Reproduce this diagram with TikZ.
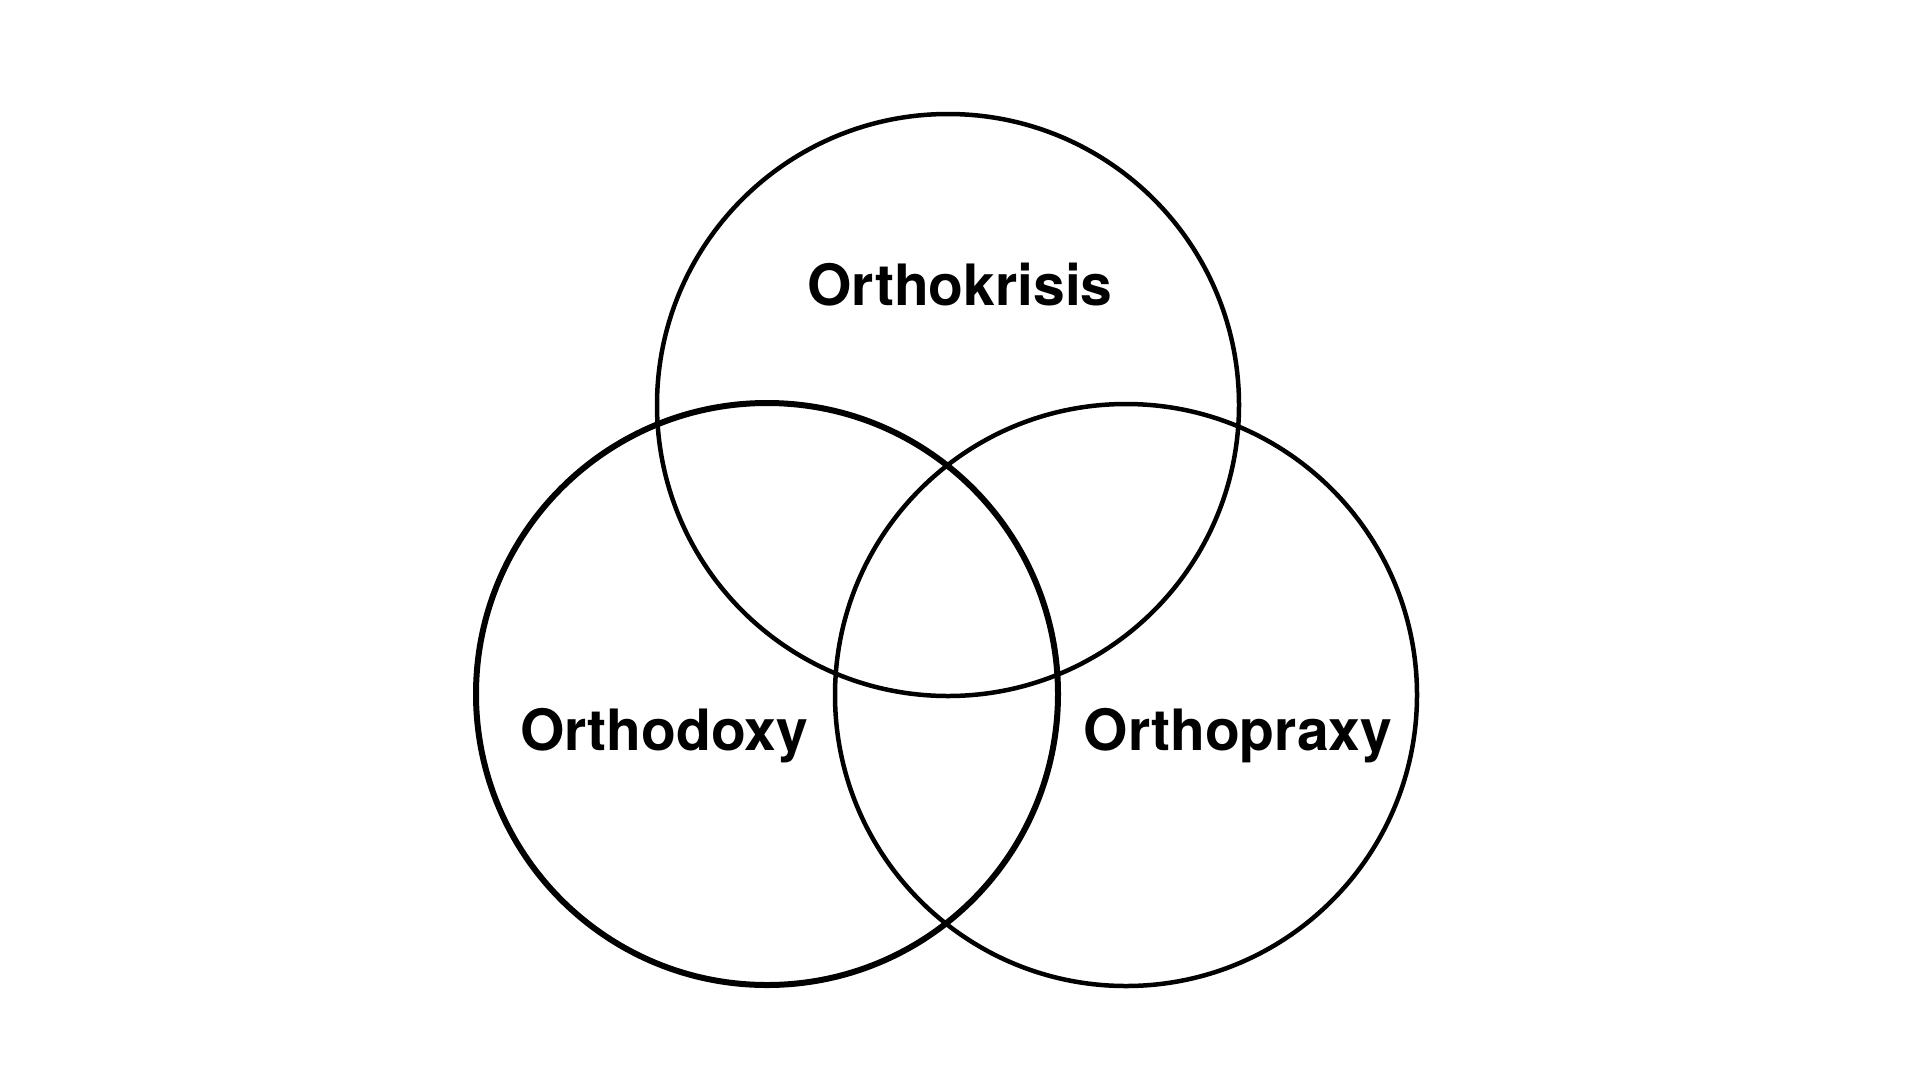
\documentclass[tikz,border=0pt]{standalone}
\usepackage{fontspec}
\setmainfont{TeX Gyre Heros}
\begin{document}
\begin{tikzpicture}[x=1pt,y=-1pt,
  ring/.style={circle, draw=black, inner sep=0pt, outer sep=0pt, minimum size=582pt, line width=4.5pt},
  lbl/.style={anchor=base, inner sep=0pt, font=\fontsize{57}{60}\selectfont\bfseries}]
\useasboundingbox[fill=white] (0,0) rectangle (1920,1080);
\node[ring] (krisis) at (948,405) {};
\node[ring, line width=6pt] (doxy) at (767,694) {};
\node[ring] (praxy) at (1126,695) {};
\node[lbl] (tkrisis) at (960,305) {Orthokrisis};
\node[lbl] (tdoxy) at (664,750) {Orthodoxy};
\node[lbl] (tpraxy) at (1238,750) {Orthopraxy};
\end{tikzpicture}
\end{document}
